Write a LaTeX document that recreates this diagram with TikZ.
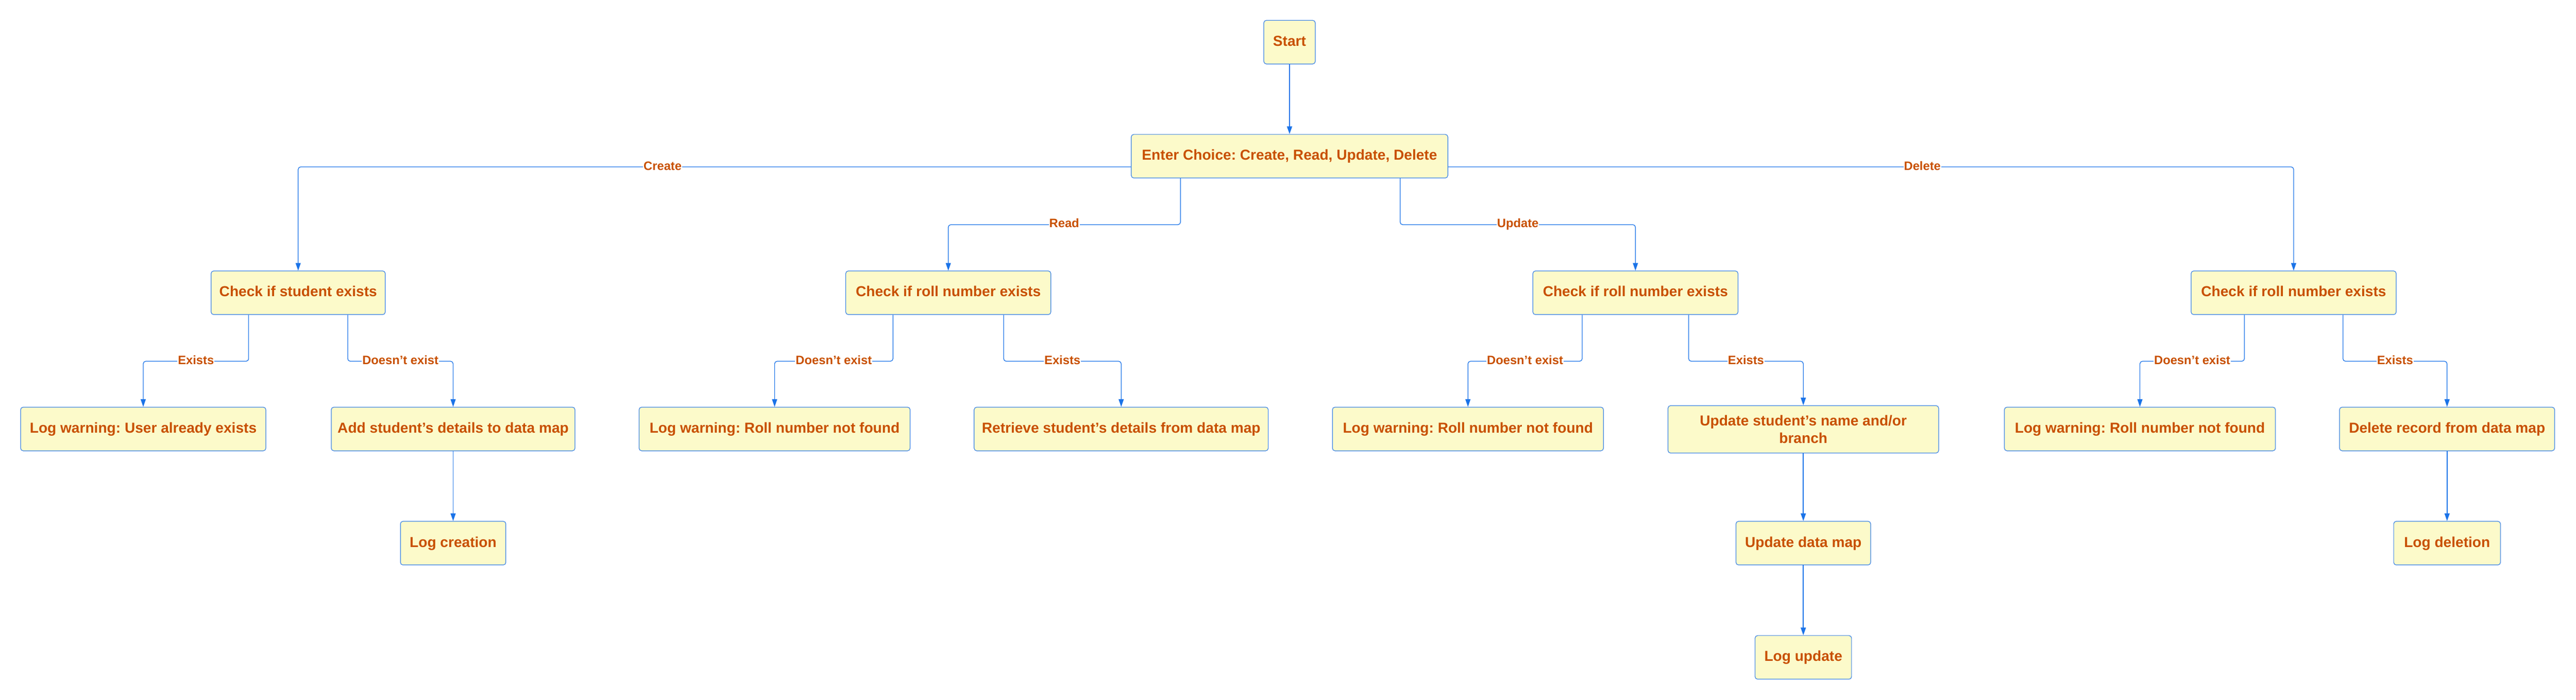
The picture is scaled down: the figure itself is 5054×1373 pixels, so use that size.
\documentclass[tikz,border=0pt]{standalone}
\usepackage{fontspec}
\setmainfont{Liberation Sans}
\usetikzlibrary{arrows.meta}
\definecolor{boxfill}{RGB}{252,250,202}
\definecolor{boxdraw}{RGB}{55,128,230}
\definecolor{txtc}{RGB}{200,80,0}
\definecolor{connc}{RGB}{26,115,232}
\frenchspacing
\begin{document}
\begin{tikzpicture}[x=0.5pt,y=-0.5pt,
  box/.style={draw=boxdraw, line width=0.6pt, fill=boxfill, rounded corners=2.5pt,
    text=txtc, font=\bfseries\fontsize{14.2pt}{17pt}\selectfont,
    minimum height=42.8pt, inner xsep=4pt, inner ysep=0pt, align=center},
  one/.style={box, text height=10.6pt, text depth=2.9pt},
  bw/.style={minimum width={#1*0.5pt}},
  edge/.style={draw=connc, line width=0.65pt, rounded corners=2.5pt,
    -{Triangle[length=7.5pt,width=5pt]}},
  edgestr/.style={edge, line width=0.9pt},
  lbl/.style={fill=white, text=txtc, font=\bfseries\fontsize{12pt}{14pt}\selectfont,
    inner xsep=0.5pt, inner ysep=1pt, text height=9pt, text depth=2.6pt}
]
\fill[white] (0,0) rectangle (5054,1373);
\useasboundingbox (0,0) rectangle (5054,1373);

% row 1 and 2
\node[one, bw=101] (start) at (2530,82.7) {Start};
\node[one, bw=621] (enter) at (2530,306.5) {Enter Choice: Create, Read, Update, Delete};
% row 3
\node[one, bw=341.7] (chkS) at (585,574.5) {Check if student exists};
\node[one, bw=402.4] (chkR) at (1860.5,574.5) {Check if roll number exists};
\node[one, bw=402.4] (chkU) at (3208.6,574.5) {Check if roll number exists};
\node[one, bw=402.4] (chkD) at (4500,574.5) {Check if roll number exists};
% row 4
\node[one, bw=481.2] (warnC) at (281,841.8) {Log warning: User already exists};
\node[one, bw=478.2] (addS) at (889,841.8) {Add student's details to data map};
\node[one, bw=531.8] (warnR) at (1519.7,841.8) {Log warning: Roll number not found};
\node[one, bw=577] (retr) at (2199.7,841.8) {Retrieve student's details from data map};
\node[one, bw=531.8] (warnU) at (2880,841.8) {Log warning: Roll number not found};
\node[box, bw=531, minimum height=46.5pt] (updS) at (3538,842.5) {Update student's name and/or\\branch};
\node[one, bw=531.8] (warnD) at (4198.4,841.8) {Log warning: Roll number not found};
\node[one, bw=422] (del) at (4801,841.8) {Delete record from data map};
% row 5
\node[one, bw=206.8] (logC) at (889,1065.8) {Log creation};
\node[one, bw=264.3] (updM) at (3538,1065.8) {Update data map};
\node[one, bw=209.5] (logD) at (4801,1065.8) {Log deletion};
% row 6
\node[one, bw=189.3] (logUp) at (3538,1290) {Log update};

% connectors
\draw[edgestr] (start) -- (enter);
\draw[edge] ([yshift=-10.5pt]enter.west) -| (chkS.north);
\draw[edge] ([yshift=-10.5pt]enter.east) -| (chkD.north);
\draw[edge] ([xshift=-107pt]enter.south) -- ++(0,91) -| (chkR.north);
\draw[edge] ([xshift=108.5pt]enter.south) -- ++(0,91) -| (chkU.north);

\draw[edge] ([xshift=-48.6pt]chkS.south) -- ++(0,91) -| (warnC.north);
\draw[edge] ([xshift=48.6pt]chkS.south) -- ++(0,91) -| (addS.north);
\draw[edge] ([xshift=-54.3pt]chkR.south) -- ++(0,91) -| (warnR.north);
\draw[edge] ([xshift=54.3pt]chkR.south) -- ++(0,91) -| (retr.north);
\draw[edge] ([xshift=-52.25pt]chkU.south) -- ++(0,91) -| (warnU.north);
\draw[edge] ([xshift=52.25pt]chkU.south) -- ++(0,91) -| (updS.north);
\draw[edge] ([xshift=-48.35pt]chkD.south) -- ++(0,91) -| (warnD.north);
\draw[edge] ([xshift=48.35pt]chkD.south) -- ++(0,91) -| (del.north);

\draw[edgestr] (addS) -- (logC);
\draw[edgestr] (updS) -- (updM);
\draw[edgestr] (updM) -- (logUp);
\draw[edgestr] (del) -- (logD);

% edge labels
\node[lbl] (lCreate) at (1300,327.5) {Create};
\node[lbl] (lDelete) at (3771.5,327.5) {Delete};
\node[lbl] (lRead) at (2088,440.3) {Read};
\node[lbl] (lUpdate) at (2978,440.3) {Update};
\node[lbl] (lSe) at (384.4,708.3) {Exists};
\node[lbl] (lSn) at (785.6,708.3) {Doesn't exist};
\node[lbl] (lRn) at (1635.8,708.3) {Doesn't exist};
\node[lbl] (lRe) at (2084.4,708.3) {Exists};
\node[lbl] (lUn) at (2992,708.3) {Doesn't exist};
\node[lbl] (lUe) at (3425.5,708.3) {Exists};
\node[lbl] (lDn) at (4300.9,708.3) {Doesn't exist};
\node[lbl] (lDe) at (4698.9,708.3) {Exists};
\end{tikzpicture}
\end{document}
